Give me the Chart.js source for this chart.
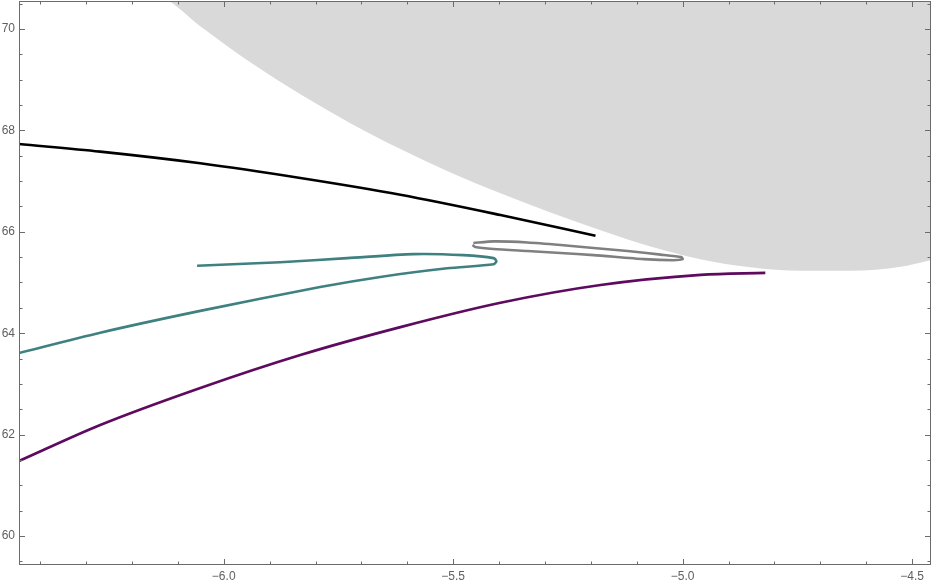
<!DOCTYPE html>
<html>
<head>
<meta charset="utf-8">
<script src="https://cdn.jsdelivr.net/npm/chart.js@4/dist/chart.umd.min.js"></script>
<style>
  body { margin: 0; background: #fff; }
  #wrap { width: 932px; height: 584px; }
</style>
</head>
<body>
<div id="wrap"><canvas id="plot" width="932" height="584"></canvas></div>
<script>
// shaded region (boundary, filled upward)
const regionX = [-6.138, -6.123, -6.051, -5.942, -5.833, -5.724, -5.615, -5.506, -5.397, -5.288, -5.179, -5.070, -4.961, -4.852, -4.743, -4.634, -4.525, -4.460];
const regionY = [70.61, 70.57, 70.05, 69.34, 68.71, 68.14, 67.63, 67.17, 66.76, 66.38, 66.03, 65.71, 65.46, 65.30, 65.23, 65.23, 65.31, 65.44];

// black curve
const blackX = [-6.446, -6.269, -6.051, -5.833, -5.615, -5.397, -5.190];
const blackY = [67.73, 67.58, 67.35, 67.06, 66.73, 66.33, 65.92];

// teal curve (goes right, folds back, runs down-left)
const tealX = [-6.058, -5.877, -5.731, -5.587, -5.478, -5.412, -5.406, -5.412, -5.513, -5.659, -5.790, -6.051, -6.269, -6.446];
const tealY = [65.33, 65.40, 65.48, 65.56, 65.54, 65.48, 65.42, 65.36, 65.28, 65.11, 64.91, 64.44, 64.01, 63.61];

// gray loop
const grayX = [-5.456, -5.412, -5.338, -5.266, -5.194, -5.120, -5.048, -5.003, -5.000, -5.020, -5.085, -5.194, -5.266, -5.338, -5.412, -5.452, -5.458];
const grayY = [65.78, 65.81, 65.79, 65.74, 65.68, 65.62, 65.55, 65.50, 65.46, 65.44, 65.46, 65.54, 65.58, 65.62, 65.66, 65.70, 65.74];

// purple curve
const purpleX = [-6.446, -6.269, -6.051, -5.833, -5.615, -5.397, -5.179, -4.961, -4.820];
const purpleY = [61.48, 62.19, 62.92, 63.57, 64.12, 64.60, 64.95, 65.15, 65.19];

function pts(xs, ys) {
  return xs.map((x, i) => ({x: x, y: ys[i]}));
}

function curve(xs, ys, color, tension, mono) {
  return {
    data: pts(xs, ys),
    borderColor: color,
    borderWidth: 2.6,
    pointRadius: 0,
    fill: false,
    tension: tension,
    cubicInterpolationMode: mono ? 'monotone' : 'default',
    order: 1
  };
}

const frameColor = '#6b6b6b';

// frame with inside ticks on all four sides
const framePlugin = {
  id: 'frame',
  afterDraw(chart) {
    const ctx = chart.ctx;
    const a = chart.chartArea;
    const xs = chart.scales.x, ys = chart.scales.y;
    ctx.save();
    ctx.strokeStyle = frameColor;
    ctx.lineWidth = 1;
    ctx.strokeRect(a.left + 0.5, a.top + 0.5, a.right - a.left - 1, a.bottom - a.top - 1);
    ctx.beginPath();
    for (let k = -65; k <= -44; k++) {
      const v = k / 10;
      if (v < xs.min || v > xs.max) continue;
      const major = k % 5 === 0;
      const len = major ? 6 : 3.5;
      const px = Math.round(xs.getPixelForValue(v)) + 0.5;
      ctx.moveTo(px, a.bottom); ctx.lineTo(px, a.bottom - len);
      ctx.moveTo(px, a.top); ctx.lineTo(px, a.top + len);
    }
    for (let k = 118; k <= 142; k++) {
      const v = k / 2;
      if (v < ys.min || v > ys.max) continue;
      const major = k % 4 === 0;
      const len = major ? 6 : 3.5;
      const py = Math.round(ys.getPixelForValue(v)) + 0.5;
      ctx.moveTo(a.left, py); ctx.lineTo(a.left + len, py);
      ctx.moveTo(a.right, py); ctx.lineTo(a.right - len, py);
    }
    ctx.stroke();
    ctx.restore();
  }
};

new Chart(document.getElementById('plot'), {
  type: 'line',
  data: {
    datasets: [
      curve(blackX, blackY, '#000000', 0.4, true),
      curve(tealX, tealY, '#3f8080', 0.25, false),
      curve(grayX, grayY, '#808080', 0.2, false),
      curve(purpleX, purpleY, '#5e0a5e', 0.4, true),
      {
        data: pts(regionX, regionY),
        borderWidth: 0,
        borderColor: 'rgba(0,0,0,0)',
        backgroundColor: '#d9d9d9',
        pointRadius: 0,
        fill: 'end',
        cubicInterpolationMode: 'monotone',
        order: 10
      }
    ]
  },
  options: {
    responsive: false,
    animation: false,
    layout: { padding: { top: 1, right: 1, left: 0, bottom: 0 } },
    plugins: { legend: { display: false }, tooltip: { enabled: false } },
    scales: {
      x: {
        type: 'linear',
        min: -6.446,
        max: -4.459,
        grid: { display: false, drawTicks: false },
        border: { display: false },
        afterFit(scale) { scale.height = 19; scale.paddingLeft = 0; scale.paddingRight = 0; },
        ticks: {
          stepSize: 0.5,
          includeBounds: false,
          autoSkip: false,
          maxRotation: 0,
          padding: 4,
          color: '#5f5f5f',
          font: { family: 'Liberation Sans', size: 12 },
          callback: v => (v < 0 ? '\u2212' : '') + Math.abs(v).toFixed(1)
        }
      },
      y: {
        type: 'linear',
        min: 59.43,
        max: 70.55,
        grid: { display: false, drawTicks: false },
        border: { display: false },
        afterFit(scale) { scale.width = 19; scale.paddingTop = 0; scale.paddingBottom = 0; },
        ticks: {
          stepSize: 2,
          includeBounds: false,
          autoSkip: false,
          padding: 4,
          color: '#5f5f5f',
          font: { family: 'Liberation Sans', size: 12 },
          callback: v => String(v)
        }
      }
    }
  },
  plugins: [framePlugin]
});
</script>
</body>
</html>
